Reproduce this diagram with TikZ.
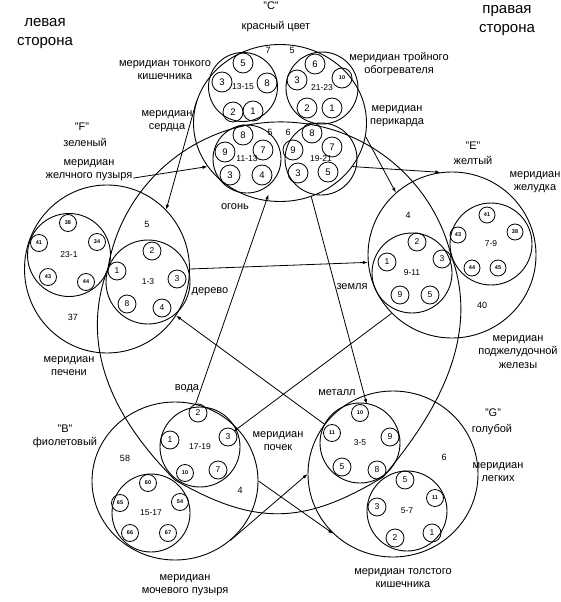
\documentclass[tikz,border=0pt]{standalone}
\usepackage{fontspec}
\setmainfont{Liberation Sans}
\usetikzlibrary{arrows.meta,shapes.geometric}

\begin{document}
\begin{tikzpicture}[
  x=1pt, y=-1pt,
  >={Latex[length=5pt,width=3.5pt]},
  elem/.style={draw, ellipse, inner sep=0pt, line width=0.9pt},
  grp/.style={draw, circle, inner sep=0pt, line width=0.9pt, font=\fontsize{8.5}{9}\selectfont},
  bub/.style={draw, circle, minimum size=18pt, inner sep=0pt, line width=0.8pt, font=\fontsize{8.5}{9}\selectfont},
  bigbub/.style={bub, minimum size=20pt, font=\fontsize{9.5}{10}\selectfont},
  tinybub/.style={bub, minimum size=17pt, font=\fontsize{5.5}{6}\selectfont\bfseries},
  lbl/.style={font=\fontsize{11}{13.5}\selectfont, align=center, inner sep=1pt},
  side/.style={font=\fontsize{15}{19}\selectfont, align=center},
  num/.style={font=\fontsize{9}{10}\selectfont, inner sep=1pt},
  arr/.style={->, line width=0.8pt}
]
\useasboundingbox (0,0) rectangle (561,602);

% side captions
\node[side] (sideL) at (45,34) {левая\\сторона};
\node[side] (sideR) at (507,21) {правая\\сторона};

% five elements
\node[elem, minimum width=173pt, minimum height=157pt] (C) at (280,123) {};
\node[elem, minimum width=165pt, minimum height=168pt] (F) at (107,269) {};
\node[elem, minimum width=168pt, minimum height=166pt] (E) at (452,255) {};
\node[elem, minimum width=166pt, minimum height=158pt] (B) at (175,481) {};
\node[elem, minimum width=170pt, minimum height=166pt] (G) at (393,474) {};

% junction points of the closed line
\coordinate (jF) at (108,268);
\coordinate (jE) at (451,255);
\coordinate (jG) at (383,477);
\coordinate (jB) at (175,480);
\draw[line width=0.9pt] (jF) arc[start angle=-170.4, end angle=-14, radius=175.3];
\draw[line width=0.9pt] (jG) .. controls +(55,-65) and +(30,80) .. (jE);
\draw[line width=0.9pt] (jB) .. controls +(80,46) and +(-79,48) .. (jG);
\draw[line width=0.9pt] (jF) .. controls +(-30,80) and +(-60,-60) .. (jB);

% "C"
\node[lbl] (tC) at (271,6) {"C"};
\node[lbl] (tCcol) at (276,27) {красный цвет};
\node[num] (nC7) at (268,50) {7};
\node[num] (nC5) at (292,50) {5};
\node[num] (nC5b) at (270,132) {5};
\node[num] (nC6) at (288,132) {6};
\node[lbl] (lblTI) at (165,70) {меридиан тонкого\\кишечника};
\node[lbl] (lblTO) at (399,64) {меридиан тройного\\обогревателя};
\node[lbl] (lblPK) at (397,116) {меридиан\\перикарда};
\node[lbl] (lblSR) at (167,121) {меридиан\\сердца};
\node[lbl] (lblFire) at (235,207) {огонь};

\node[grp, minimum size=69pt] (c1315) at (243,87) {13-15};
\node[bigbub] (c1315a) at (243,63) {5};
\node[bigbub] (c1315b) at (222,82) {3};
\node[bigbub] (c1315c) at (267,83) {8};
\node[bigbub] (c1315d) at (233,112) {2};
\node[bigbub] (c1315e) at (253,111) {1};

\node[grp, minimum size=72pt] (c2123) at (322,88) {21-23};
\node[bigbub] (c2123a) at (315,64) {6};
\node[bigbub] (c2123b) at (297,80) {3};
\node[bigbub, font=\fontsize{5.5}{6}\selectfont\bfseries] (c2123c) at (342,78) {10};
\node[bigbub] (c2123d) at (307,108) {2};
\node[bigbub] (c2123e) at (332,108) {1};

\node[grp, minimum size=68pt] (c1113) at (247,159) {11-13};
\node[bigbub] (c1113a) at (243,135) {8};
\node[bigbub] (c1113b) at (225,152) {9};
\node[bigbub] (c1113c) at (263,150) {7};
\node[bigbub] (c1113d) at (230,175) {3};
\node[bigbub] (c1113e) at (262,175) {4};

\node[grp, minimum size=72pt] (c1921) at (321,159) {19-21};
\node[bigbub] (c1921a) at (312,133) {8};
\node[bigbub] (c1921b) at (293,150) {9};
\node[bigbub] (c1921c) at (332,147) {7};
\node[bigbub] (c1921d) at (298,173) {3};
\node[bigbub] (c1921e) at (328,172) {5};

% "F"
\node[lbl] (tF) at (82,127) {"F"};
\node[lbl] (tFcol) at (85,142) {зеленый};
\node[lbl] (lblGB) at (89,170) {меридиан\\желчного пузыря};
\node[lbl] (lblPC) at (69,366) {меридиан\\печени};
\node[lbl] (lblWood) at (210,292) {дерево};
\node[num] (nF5) at (147,224) {5};
\node[num] (nF37) at (73,317) {37};

\node[grp, minimum size=83pt] (f231) at (69,255) {23-1};
\node[tinybub] (f231a) at (68,223) {38};
\node[tinybub] (f231b) at (39,243) {41};
\node[tinybub] (f231c) at (97,242) {34};
\node[tinybub] (f231d) at (48,277) {43};
\node[tinybub] (f231e) at (86,282) {44};

\node[grp, minimum size=84pt] (f13) at (148,282) {1-3};
\node[bub] (f13a) at (152,251) {2};
\node[bub] (f13b) at (117,271) {1};
\node[bub] (f13c) at (177,279) {3};
\node[bub] (f13d) at (127,304) {8};
\node[bub] (f13e) at (162,308) {4};

% "E"
\node[lbl] (tE) at (473,146) {"E"};
\node[lbl] (tEcol) at (473,160) {желтый};
\node[lbl] (lblST) at (535,182) {меридиан\\желудка};
\node[lbl] (lblPZ) at (518,352) {меридиан\\поджелудочной\\железы};
\node[lbl] (lblEarth) at (352,287) {земля};
\node[num] (nE4) at (408,215) {4};
\node[num] (nE40) at (482,305) {40};

\node[grp, minimum size=80pt] (e911) at (412,273) {9-11};
\node[bub] (e911a) at (417,242) {2};
\node[bub] (e911b) at (387,262) {1};
\node[bub] (e911c) at (442,259) {3};
\node[bub] (e911d) at (400,295) {9};
\node[bub] (e911e) at (430,295) {5};

\node[grp, minimum size=82pt] (e79) at (491,244) {7-9};
\node[tinybub, minimum size=16pt] (e79a) at (487,215) {41};
\node[tinybub, minimum size=16pt] (e79b) at (515,232) {38};
\node[tinybub, minimum size=16pt] (e79c) at (458,235) {43};
\node[tinybub, minimum size=16pt] (e79d) at (472,268) {44};
\node[tinybub, minimum size=16pt] (e79e) at (498,268) {45};

% "B"
\node[lbl] (tB) at (65,429) {"B"};
\node[lbl] (tBcol) at (65,443) {фиолетовый};
\node[lbl] (lblKD) at (278,441) {меридиан\\почек};
\node[lbl] (lblUB) at (185,585) {меридиан\\мочевого пузыря};
\node[lbl] (lblWater) at (187,389) {вода};
\node[num] (nB58) at (125,458) {58};
\node[num] (nB4) at (240,490) {4};

\node[grp, minimum size=80pt] (b1719) at (200,447) {17-19};
\node[bub] (b1719a) at (198,413) {2};
\node[bub] (b1719b) at (170,440) {1};
\node[bub] (b1719c) at (228,437) {3};
\node[tinybub] (b1719d) at (185,473) {10};
\node[bub] (b1719e) at (218,470) {7};

\node[grp, minimum size=78pt] (b1517) at (151,513) {15-17};
\node[tinybub] (b1517a) at (148,483) {60};
\node[tinybub] (b1517b) at (120,503) {65};
\node[tinybub] (b1517c) at (180,502) {54};
\node[tinybub] (b1517d) at (130,533) {66};
\node[tinybub] (b1517e) at (168,533) {67};

% "G"
\node[lbl] (tG) at (493,413) {"G"};
\node[lbl] (tGcol) at (492,430) {голубой};
\node[lbl] (lblLG) at (498,472) {меридиан\\легких};
\node[lbl] (lblLI) at (403,578) {меридиан толстого\\кишечника};
\node[lbl] (lblMetal) at (337,393) {металл};
\node[num] (nG6) at (444,457) {6};

\node[grp, minimum size=80pt] (g35) at (360,443) {3-5};
\node[tinybub] (g35a) at (360,413) {10};
\node[tinybub] (g35b) at (332,433) {11};
\node[bub] (g35c) at (390,437) {9};
\node[bub] (g35d) at (342,467) {5};
\node[bub] (g35e) at (377,470) {8};

\node[grp, minimum size=80pt] (g57) at (407,511) {5-7};
\node[bub] (g57a) at (405,480) {5};
\node[tinybub] (g57b) at (435,498) {11};
\node[bub] (g57c) at (377,507) {3};
\node[bub] (g57d) at (395,538) {2};
\node[bub] (g57e) at (432,533) {1};

% connections
\draw[arr] ([yshift=4pt]lblGB.south east) -- (C.211);
\draw[arr] (C.165) -- (F.45);
\draw[arr] (C.-9) -- (E.132);
\draw[arr] (C.-31) -- (E.98);
\draw[arr] (F.0) -- (E.185);
\draw[arr, shorten >=-9pt] (C.-67) -- (G.110);
\draw[arr, shorten >=-7pt] (B.75) -- (C.-100);
\draw[arr] (G.144) -- (F.-34);
\draw[arr, shorten >=-5pt] (E.224) -- (B.40);
\draw[arr] (B.0) -- (G.225);
\draw[arr] (B.-47) -- (G.180);

\end{tikzpicture}
\end{document}
